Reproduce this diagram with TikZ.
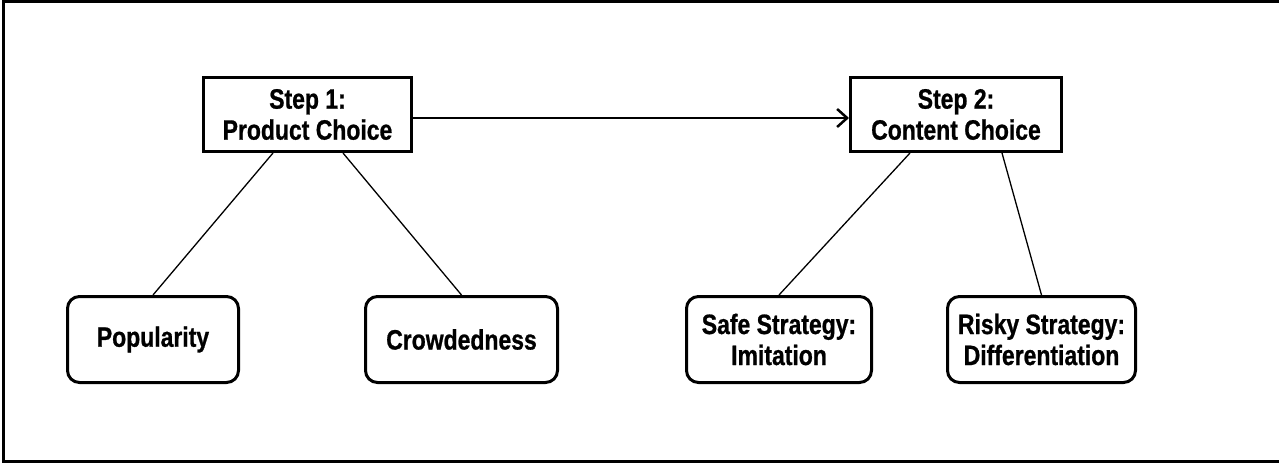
\documentclass[tikz,border=0pt]{standalone}
\usepackage{fontspec}
\setmainfont{Liberation Sans}[FakeStretch=0.82, BoldFeatures={FakeBold=0.8}]
\usetikzlibrary{arrows.meta}

\tikzset{
  stepbox/.style={draw, line width=3pt, minimum width=#1, minimum height=74pt, align=center, inner sep=0pt},
  leafbox/.style={draw, line width=3pt, rounded corners=12pt, minimum width=#1, minimum height=86pt, align=center, inner sep=0pt},
  branch/.style={line width=1.3pt},
}

\begin{document}
\begin{tikzpicture}[x=1pt, y=-1pt, font=\fontsize{28}{31}\selectfont\bfseries]
\useasboundingbox (0,0) rectangle (1279,463);
\draw[line width=3pt] (1290,1.5) -- (3,1.5) -- (3,461.5) -- (1290,461.5);

\node[stepbox=208pt] (step1) at (307.5,114.5) {Step 1:\\Product Choice};
\node[stepbox=211pt] (step2) at (956,114.5) {Step 2:\\Content Choice};

\node[leafbox=171pt] (pop) at (153,339.5) {Popularity};
\node[leafbox=192pt] (crowd) at (461.5,339.5) {Crowdedness};
\node[leafbox=185pt] (safe) at (779,339.5) {Safe Strategy:\\Imitation};
\node[leafbox=188pt] (risky) at (1041.5,339.5) {Risky Strategy:\\Differentiation};

\draw[line width=2.5pt, -{Straight Barb[length=10pt,width=18pt,line width=2.5pt]}] ([yshift=-3.5pt]step1.east) -- ([yshift=-3.5pt]step2.west);

\draw[branch] ([xshift=-34.5pt]step1.south) -- (pop.north);
\draw[branch] ([xshift=35.5pt]step1.south) -- (crowd.north);
\draw[branch] ([xshift=-46pt]step2.south) -- (safe.north);
\draw[branch] ([xshift=46pt]step2.south) -- (risky.north);
\end{tikzpicture}
\end{document}
